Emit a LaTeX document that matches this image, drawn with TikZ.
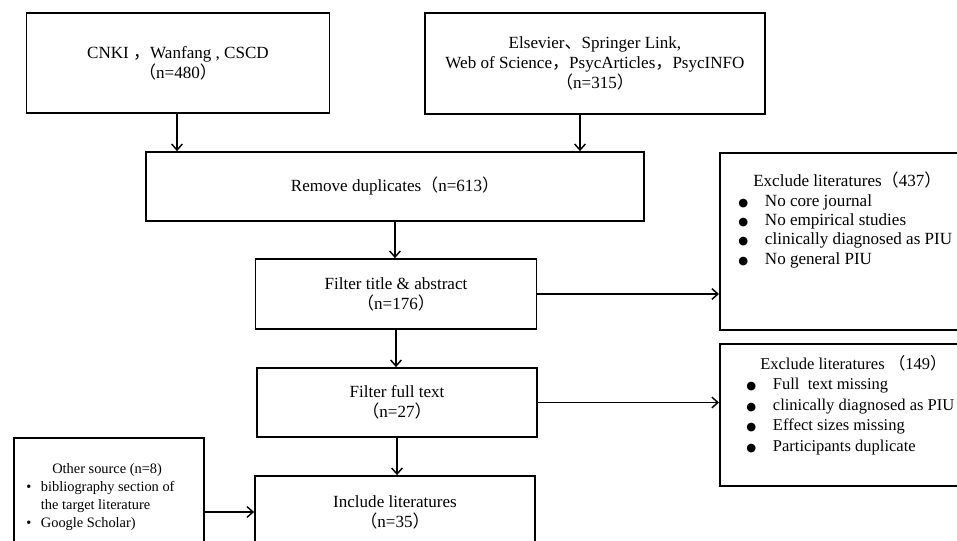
\documentclass[tikz,border=0pt]{standalone}
\usepackage{fontspec}
\setmainfont{Liberation Serif}
\newfontfamily\cjk{Noto Sans CJK SC}
\newfontfamily\symfont{DejaVu Sans}
\usetikzlibrary{positioning, arrows.meta, calc}
\newcommand{\px}{0.75pt}
\newcommand{\lp}{{\cjk （}}
\newcommand{\rp}{{\cjk ）}}
\newcommand{\zhcomma}{{\cjk ，}}
\newcommand{\zhdun}{{\cjk 、}}
\newcommand{\bigdot}{\makebox[20pt][l]{\symfont\fontsize{8.5}{8.5}\selectfont ●}}
\newcommand{\smalldot}{\makebox[11pt][l]{\textbullet}}
\tikzset{
  box/.style={draw, line width=1.3pt, rectangle, inner sep=0pt, align=center},
  flow/.style={-{Straight Barb[length=4.5pt,width=8pt]}, line width=1.1pt},
  listtext/.style={anchor=north west, inner sep=0pt, align=left}
}

\begin{document}
\begin{tikzpicture}[x=\px, y=-\px, font=\fontsize{12.8}{15}\selectfont]
  \useasboundingbox (0,0) rectangle (957,541);
  \clip (0,0) rectangle (957,541);
  % Fuentes
  \node[box, minimum width=303*\px, minimum height=100*\px] (cnki) at (178,63)
    {CNKI \zhcomma Wanfang , CSCD\\\lp n=480\rp};
  \node[box, minimum width=340*\px, minimum height=101*\px] (intl) at (595,63.5)
    {Elsevier\zhdun Springer Link,\\Web of Science\zhcomma PsycArticles\zhcomma PsycINFO\\\lp n=315\rp};
  % Cribado
  \node[box, minimum width=498*\px, minimum height=69*\px] (dedup) at (395,186.5)
    {Remove duplicates\lp n=613\rp};
  \node[box, minimum width=281*\px, minimum height=70*\px] (title) at (396,294)
    {Filter title \& abstract\\\lp n=176\rp};
  \node[box, minimum width=280*\px, minimum height=69*\px] (fulltext) at (397,402.5)
    {Filter full text\\\lp n=27\rp};
  \node[box, minimum width=280*\px, minimum height=72*\px] (incl) at (395,512)
    {Include literatures\\\lp n=35\rp};
  % Otras fuentes
  \node[box, minimum width=190*\px, minimum height=116*\px, anchor=north west] (other) at (13,437) {};
  \node[listtext, font=\fontsize{10.8}{13.5}\selectfont] (othertxt) at (26,461)
    {\begin{tabular}{@{}l@{}l@{}}
      \multicolumn{2}{@{\hspace{19.5pt}}l@{}}{Other source (n=8)}\\
      \smalldot & bibliography section of\\
       & the target literature\\
      \smalldot & Google Scholar)
    \end{tabular}};
  % Exclusiones
  \node[box, minimum width=281*\px, minimum height=177*\px, anchor=north west] (excl1) at (719,152) {};
  \node[listtext, font=\fontsize{12.8}{14.5}\selectfont] (excl1txt) at (738,172)
    {\begin{tabular}{@{}l@{}l@{}}
      \multicolumn{2}{@{\hspace{11.25pt}}l@{}}{Exclude literatures\lp 437\rp}\\
      \bigdot & No core journal\\
      \bigdot & No empirical studies\\
      \bigdot & clinically diagnosed as PIU\\
      \bigdot & No general PIU
    \end{tabular}};
  \node[box, minimum width=281*\px, minimum height=142*\px, anchor=north west] (excl2) at (719,343) {};
  \node[listtext, font=\fontsize{12.4}{15.3}\selectfont] (excl2txt) at (746,355)
    {\begin{tabular}{@{}l@{}l@{}}
      \multicolumn{2}{@{\hspace{10.5pt}}l@{}}{Exclude literatures \lp 149\rp}\\
      \bigdot & Full\ \ text missing\\
      \bigdot & clinically diagnosed as PIU\\
      \bigdot & Effect sizes missing\\
      \bigdot & Participants duplicate
    \end{tabular}};
  % Flechas
  \draw[flow] ([xshift=-1*\px]cnki.south) -- ([xshift=-1*\px]cnki.south |- dedup.north);
  \draw[flow] ([xshift=-15*\px]intl.south) -- ([xshift=-15*\px]intl.south |- dedup.north);
  \draw[flow] (dedup.south) -- (dedup.south |- title.north);
  \draw[flow] (title.south) -- (title.south |- fulltext.north);
  \draw[flow] (fulltext.south) -- (fulltext.south |- incl.north);
  \draw[flow] (title.east) -- (title.east -| excl1.west);
  \draw[flow] (fulltext.east) -- (fulltext.east -| excl2.west);
  \draw[flow] (incl.west -| other.east) -- (incl.west);
\end{tikzpicture}
\end{document}
